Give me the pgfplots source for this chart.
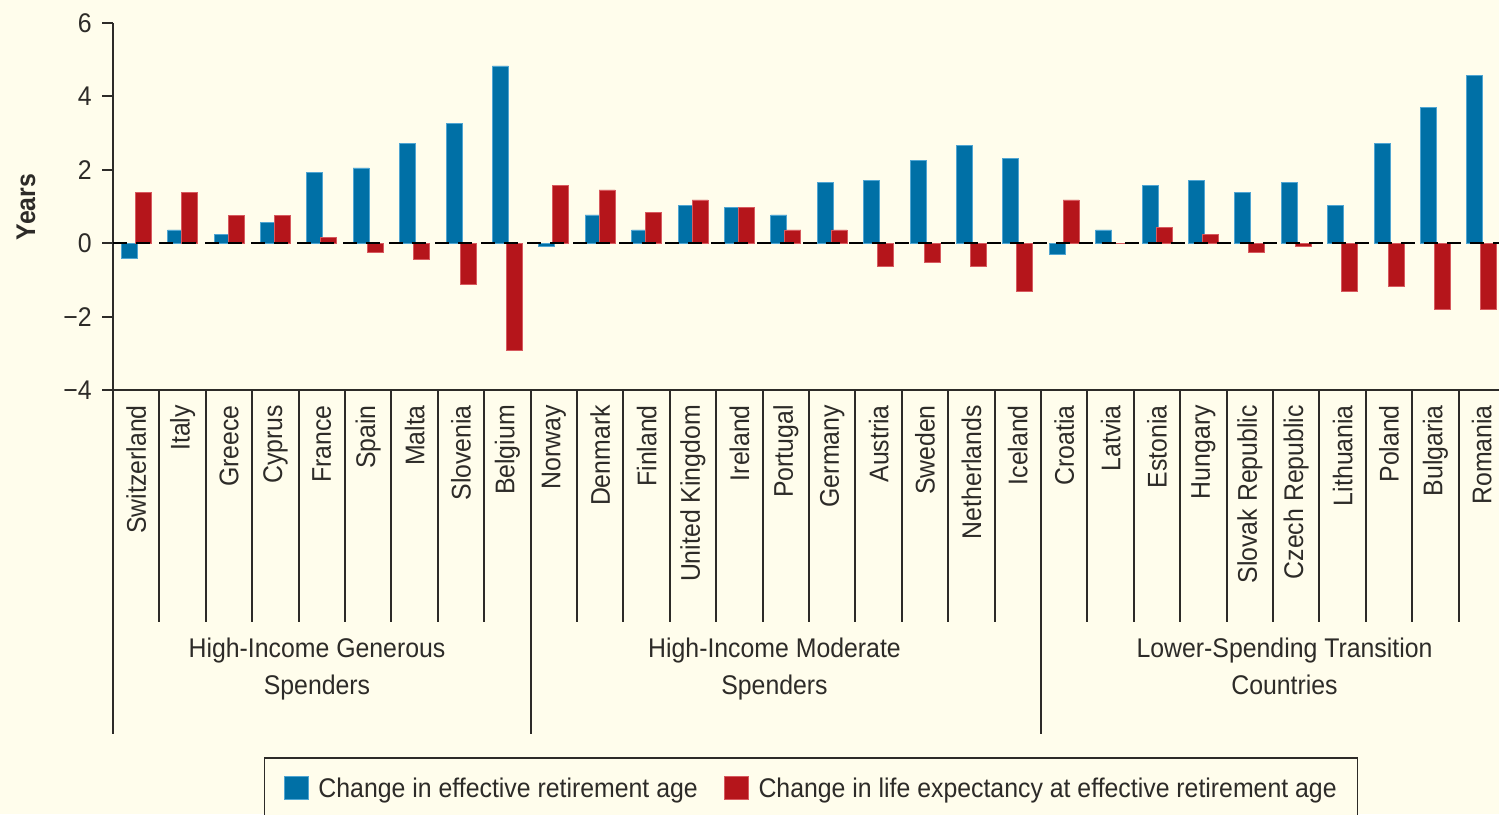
\documentclass[border=0pt]{standalone}
\usepackage{fontspec}
\setmainfont{Liberation Sans}[FakeStretch=0.92]
\usepackage{pgfplots}
\pgfplotsset{compat=1.18}
\usepackage{pgfplotstable}
\definecolor{bg}{RGB}{255,253,236}
\definecolor{barblue}{RGB}{0,112,166}
\definecolor{barred}{RGB}{181,21,27}
\definecolor{blueedge}{RGB}{80,165,210}
\definecolor{rededge}{RGB}{215,90,95}
\definecolor{ink}{RGB}{45,43,40}

\pgfplotstableread{
x blue red
0 -0.42 1.38
1 0.36 1.38
2 0.24 0.76
3 0.56 0.76
4 1.93 0.16
5 2.05 -0.24
6 2.73 -0.44
7 3.27 -1.12
8 4.83 -2.93
9 -0.10 1.58
10 0.77 1.45
11 0.36 0.84
12 1.04 1.18
13 0.97 0.97
14 0.77 0.36
15 1.65 0.36
16 1.72 -0.64
17 2.25 -0.51
18 2.67 -0.64
19 2.32 -1.32
20 -0.31 1.18
21 0.36 0
22 1.58 0.43
23 1.72 0.23
24 1.38 -0.24
25 1.65 -0.10
26 1.04 -1.32
27 2.73 -1.18
28 3.69 -1.80
29 4.56 -1.80
}\datatable

\begin{document}
\begin{tikzpicture}[font=\fontsize{27}{37}\selectfont, ink]
\fill[bg] (0pt,0pt) rectangle (1499pt,-814pt);
\begin{axis}[
  scale only axis, width=1386pt, height=367pt,
  at={(113pt,-390pt)}, anchor=south west,
  xmin=-0.5, xmax=29.37, ymin=-4, ymax=6,
  axis x line*=bottom, axis y line*=left,
  axis line style={ink, line width=2pt},
  ytick={-4,-2,0,2,4,6}, yticklabels={−4,−2,0,2,4,6},
  xtick={0,...,29},
  xticklabels={Switzerland,Italy,Greece,Cyprus,France,Spain,Malta,Slovenia,Belgium,Norway,Denmark,Finland,United Kingdom,Ireland,Portugal,Germany,Austria,Sweden,Netherlands,Iceland,Croatia,Latvia,Estonia,Hungary,Slovak Republic,Czech Republic,Lithuania,Poland,Bulgaria,Romania},
  tick align=outside, major tick length=11pt,
  x tick style={draw=none},
  y tick style={ink, line width=2pt},
  yticklabel style={anchor=east, inner sep=0pt, xshift=-10pt, font=\fontsize{27}{37}\selectfont, text=ink},
  xticklabel style={yshift=-4pt, rotate=90, anchor=east, inner sep=0pt, font=\fontsize{27}{37}\selectfont, text=ink},
  clip=false,
  legend style={at={(0.1089,-1.0)}, anchor=north west, draw=ink, line width=1.5pt, fill=bg,
    inner xsep=19pt, inner ysep=18pt, legend columns=2,
    /tikz/every even column/.append style={column sep=24pt},
    font=\fontsize{27}{37}\selectfont, text=ink},
  legend cell align=left,
  legend image code/.code={\fill[#1] (0pt,-11.5pt) rectangle (24pt,11.5pt); \path (32pt,0pt);},
]
\addplot[ybar, bar width=16pt, bar shift=-7pt, fill=barblue, draw=blueedge, line width=0.8pt] table[x=x, y=blue] {\datatable};
\addlegendentry{Change in effective retirement age}
\addplot[ybar, bar width=16pt, bar shift=7pt, fill=barred, draw=rededge, line width=0.8pt] table[x=x, y=red] {\datatable};
\addlegendentry{Change in life expectancy at effective retirement age}
\draw[black, line width=2pt, dash pattern=on 14pt off 9pt] (axis cs:-0.5,0) -- (axis cs:29.37,0);
\pgfplotsinvokeforeach{0.5,1.5,2.5,3.5,4.5,5.5,6.5,7.5,9.5,10.5,11.5,12.5,13.5,14.5,15.5,16.5,17.5,18.5,20.5,21.5,22.5,23.5,24.5,25.5,26.5,27.5,28.5}{
  \draw[ink, line width=2pt] (axis cs:#1,-4) -- (axis cs:#1,-10.32);
}
\pgfplotsinvokeforeach{-0.5,8.5,19.5}{
  \draw[ink, line width=2pt] (axis cs:#1,-4) -- (axis cs:#1,-13.37);
}
\end{axis}
\node[rotate=90, font=\fontsize{27}{37}\selectfont\bfseries, text=ink] at (26pt,-207pt) {Years};
\node[anchor=base, text=ink] at (317pt,-657pt) {High-Income Generous};
\node[anchor=base, text=ink] at (317pt,-694pt) {Spenders};
\node[anchor=base, text=ink] at (774.5pt,-657pt) {High-Income Moderate};
\node[anchor=base, text=ink] at (774.5pt,-694pt) {Spenders};
\node[anchor=base, text=ink] at (1284.5pt,-657pt) {Lower-Spending Transition};
\node[anchor=base, text=ink] at (1284.5pt,-694pt) {Countries};
\pgfresetboundingbox
\useasboundingbox (0pt,0pt) rectangle (1499pt,-814pt);
\end{tikzpicture}
\end{document}
